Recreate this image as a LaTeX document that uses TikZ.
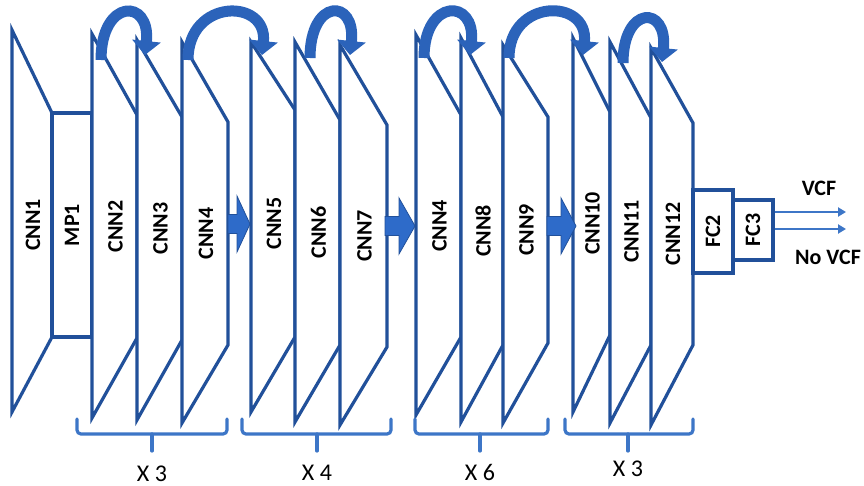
\documentclass[tikz,border=0pt]{standalone}
\usepackage{fontspec}
\setmainfont{Carlito}
\usetikzlibrary{arrows.meta}

\definecolor{slabedge}{HTML}{21509A}
\definecolor{loopblue}{HTML}{2B63BA}
\definecolor{flowblue}{HTML}{2E6BC9}
\definecolor{braceblue}{HTML}{3D76C7}

\tikzset{
  slab/.style={draw=slabedge, line width=3.2pt, fill=white, line join=miter},
  box/.style={slab, rectangle, inner sep=0pt, font=\bfseries\fontsize{22}{22}\selectfont},
  lbl/.style={font=\bfseries\fontsize{22}{22}\selectfont, rotate=90, inner sep=0pt},
  loop/.style={draw=loopblue, line width=11pt, -{Triangle[width=28pt,length=14pt]}},
  flow/.style={fill=flowblue, draw=slabedge, line width=0.8pt, line join=miter},
  outarrow/.style={draw=braceblue, line width=2.6pt, -{Triangle[width=9pt,length=8pt]}},
  grpbrace/.style={draw=braceblue, line width=3.2pt, rounded corners=4pt, line cap=round},
  mult/.style={font=\fontsize{24}{24}\selectfont, inner sep=0pt},
  outlbl/.style={font=\bfseries\fontsize{22}{22}\selectfont, inner sep=0pt},
}

% convolution slab: name, left x, top y, right x, right top y, right bottom y, bottom y, label
\newcommand\convslab[8]{%
  \draw[slab] (#2,#3) -- (#4,#5) -- (#4,#6) -- (#2,#7) -- cycle;
  \node[lbl] (#1) at ({(#2+#4)/2+1},{(#5+#6)/2}) {#8};}

% block arrow between stages: start x, head base x, tip x, centre y, name
\newcommand\fatarrow[5]{%
  \coordinate (#5-tail) at (#1,#4);
  \coordinate (#5-tip) at (#3,#4);
  \draw[flow] (#1,{#4-9.5}) -- (#2,{#4-9.5}) -- (#2,{#4-28}) -- (#5-tip)
    -- (#2,{#4+28}) -- (#2,{#4+9.5}) -- (#5-tail |- 0,{#4+9.5}) -- cycle;}

% curved skip arrow over the slabs: tail x, tail y, tip x, tip y, control height, name
\newcommand\skiparc[6]{%
  \coordinate (#6-from) at (#1,#2);
  \coordinate (#6-to) at (#3,#4);
  \draw[loop] (#6-from) .. controls (#1,#5) and ({#3+6},#5) .. (#6-to);}

% repetition brace: left x, right x, middle x, label y, label, name
\newcommand\groupbrace[6]{%
  \draw[grpbrace] (#1,419) -- (#1,434) -- (#2,434) -- (#2,419);
  \draw[grpbrace] (#3,434) -- (#3,451);
  \node[mult] (#6) at (#3,#4) {#5};}

\begin{document}
\begin{tikzpicture}[x=1pt,y=-1pt]
\useasboundingbox (0,0) rectangle (864,486);
\fill[white] (0,0) rectangle (864,486);

% input convolution and pooling
\convslab{cnn1}{12}{30}{52}{113}{337}{412}{CNN1}
\node[box, minimum width=224pt, minimum height=40pt, rotate=90] (mp1) at (72,225) {MP1};

% stage 1
\convslab{cnn2}{92}{34}{137}{115}{338}{418}{CNN2}
\convslab{cnn3}{137}{40}{182}{117}{340}{420}{CNN3}
\convslab{cnn4}{182}{42}{228}{122}{345}{423}{CNN4}
% stage 2
\convslab{cnn5}{251}{42}{295}{110}{337}{412}{CNN5}
\convslab{cnn6}{295}{42}{340}{120}{345}{422}{CNN6}
\convslab{cnn7}{340}{45}{387}{125}{347}{425}{CNN7}
% stage 3
\convslab{cnn4b}{416}{35}{461}{115}{337}{415}{CNN4}
\convslab{cnn8}{461}{38}{503}{117}{345}{422}{CNN8}
\convslab{cnn9}{503}{45}{548}{117}{343}{423}{CNN9}
% stage 4
\convslab{cnn10}{573}{38}{610}{112}{335}{412}{CNN10}
\convslab{cnn11}{610}{42}{651}{118}{345}{423}{CNN11}
\convslab{cnn12}{651}{48}{693}{123}{345}{425}{CNN12}

% fully connected layers
\node[box, minimum width=83pt, minimum height=40pt, rotate=90] (fc2) at (713,231.5) {FC2};
\node[box, minimum width=60pt, minimum height=40pt, rotate=90] (fc3) at (753,230) {FC3};

% transitions between stages
\fatarrow{228}{237}{250}{224}{step1}
\fatarrow{385}{399}{415}{226}{step2}
\fatarrow{547}{561}{576}{226}{step3}

% residual connections
\skiparc{101}{60}{145}{55}{-2}{res1}
\skiparc{188}{60}{262}{55}{-2}{res2}
\skiparc{310}{58}{350}{55}{-2}{res3}
\skiparc{424}{58}{470}{55}{-2}{res4}
\skiparc{509}{58}{583}{55}{-2}{res5}
\skiparc{623}{63}{662}{62}{5}{res6}

% outputs (the rotated box's south anchor is its right side)
\coordinate (vcf-end) at (846,212);
\coordinate (novcf-end) at (846,229);
\draw[outarrow] (fc3.south |- vcf-end) -- (vcf-end);
\draw[outarrow] (fc3.south |- novcf-end) -- (novcf-end);
\node[outlbl] (vcf) at (819,188) {VCF};
\node[outlbl] (novcf) at (828,257) {No VCF};

% repetition counts
\groupbrace{77}{227}{152}{474}{X 3}{rep1}
\groupbrace{242}{391}{317}{473}{X 4}{rep2}
\groupbrace{415}{548}{480}{472}{X 6}{rep3}
\groupbrace{565}{693}{628}{469}{X 3}{rep4}
\end{tikzpicture}
\end{document}
